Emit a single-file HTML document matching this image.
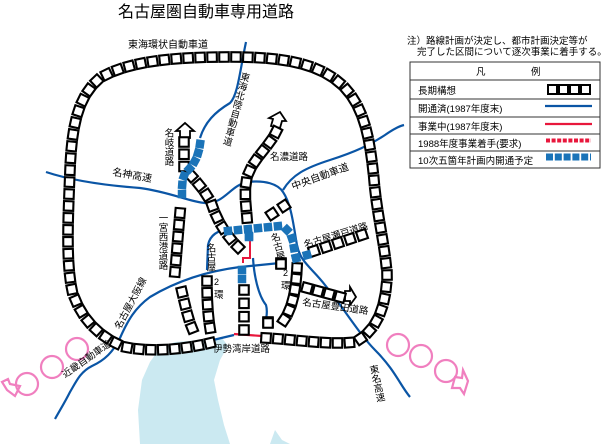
<!DOCTYPE html>
<html><head><meta charset="utf-8">
<style>
html,body{margin:0;padding:0;background:#fff;}
svg{display:block;font-family:"Liberation Sans","Noto Sans CJK JP",sans-serif;}
</style></head><body>
<svg id="s" width="614" height="444" viewBox="0 0 614 444" xmlns="http://www.w3.org/2000/svg">
<!-- bay -->
<path d="M140,444 L138,410 L142,380 L150,362 L160,348 L175,342 L200,340 L222,338 L228,346 L220,360 L214,380 L218,400 L224,425 L230,444 Z" fill="#cbe9f1"/>
<path d="M270,444 L275,430 L282,440 L290,444 Z" fill="#cbe9f1"/>
<!-- blue lines -->
<g fill="none" stroke="#0a55a5" stroke-width="2.2">
<path d="M246,42 C240,70 238,95 230,103 C215,112 205,122 200,138"/>
<path d="M46,172 C70,180 100,185 140,188 C170,192 190,202 205,203 C225,204 230,185 248,182 C265,180 278,184 283,192 C292,205 294,230 297,245 C300,262 312,268 325,285 C345,310 360,335 375,350 C395,370 400,385 410,397"/>
<path d="M283,190 C292,175 305,168 330,160 C355,152 370,145 385,135 C395,128 400,126 404,125"/>
<path d="M280,263 L240,267 C200,272 170,285 150,297 C135,308 128,320 120,338 C113,352 105,360 92,366 C80,372 76,382 70,392 C65,402 60,410 55,419"/>
<path d="M207,270 L208,245 C210,235 218,230 230,229"/>
<path d="M253,258 C254,275 258,295 266,305 C268,312 266,318 266,320"/>
<path d="M213,340 L234,335"/>
</g>
<path d="M234,334 L262,336" stroke="#e8173c" stroke-width="2.2" fill="none"/>
<path d="M250,240 L250,258 L243,258 L243,263" stroke="#e8173c" stroke-width="2" fill="none"/>
<!-- pink circles -->
<g fill="none" stroke="#f07fbf" stroke-width="2.2">
<circle cx="77" cy="349" r="11"/><circle cx="52" cy="367" r="11"/><circle cx="27" cy="384" r="11"/>
<circle cx="398" cy="345" r="11"/><circle cx="421" cy="356" r="11"/><circle cx="446" cy="371" r="11"/>
<path d="M15,396 L7,390 L2,382 L8,379 L10,384 L20,386 Z"/>
<path d="M455,377 L462,378 L463,370 L468,381 L464,394 L460,388 L452,388 Z"/>
</g>
<!-- arrows -->
<g fill="#fff" stroke="#000" stroke-width="1.8">
<path d="M180,138 L180,131 L176,131 L185,123 L194,131 L190,131 L190,138 Z"/>
<path d="M271,126 L273,119 L269,118 L280,112 L286,121 L282,121 L280,128 Z"/>
<path d="M345,291 L350,291 L350,287 L356,297 L350,305 L350,301 L345,301 Z"/>
</g>
<g id="chains"></g>
<!-- text -->
<g fill="#000" font-size="10">
<text x="118" y="17" font-size="16">名古屋圏自動車専用道路</text>
<text x="128" y="48" font-size="10">東海環状自動車道</text>
<text transform="translate(245,72) rotate(15)" font-size="9.5" style="writing-mode:vertical-rl">東海北陸自動車道</text>
<text x="168" y="128" font-size="9.5" style="writing-mode:vertical-rl">名岐道路</text>
<text x="270" y="160" font-size="9.5">名濃道路</text>
<text transform="translate(112,175) rotate(10)" font-size="10">名神高速</text>
<text transform="translate(293,190) rotate(-20)" font-size="10">中央自動車道</text>
<text x="162" y="213" font-size="9.5" style="writing-mode:vertical-rl">一宮西港道路</text>
<text x="210" y="243" font-size="9.5" style="writing-mode:vertical-rl">名古屋</text>
<text x="214" y="285" font-size="9">2</text>
<text x="214" y="298" font-size="9.5">環</text>
<text transform="translate(273,233) rotate(-15)" font-size="9.5" style="writing-mode:vertical-rl">名古屋</text>
<text x="283" y="276" font-size="9">2</text>
<text x="281" y="289" font-size="9.5">環</text>
<text transform="translate(305,248) rotate(-17)" font-size="9.5">名古屋瀬戸道路</text>
<text transform="translate(302,305) rotate(8)" font-size="9.5">名古屋豊田道路</text>
<text transform="translate(120,330) rotate(-62)" font-size="9.5">名古屋大阪線</text>
<text transform="translate(65,378) rotate(-35)" font-size="9.5">近畿自動車道</text>
<text x="213" y="352" font-size="9.5">伊勢湾岸道路</text>
<text transform="translate(372,365) rotate(-12)" font-size="9.5" style="writing-mode:vertical-rl">東名高速</text>
<text x="407" y="44" font-size="9.5">注）路線計画が決定し、都市計画決定等が</text>
<text x="417" y="55" font-size="9.5">完了した区間について逐次事業に着手する。</text>
</g>
<!-- legend -->
<g font-size="9.5">
<rect x="410" y="62" width="190" height="106" fill="#fff" stroke="#333" stroke-width="1"/>
<g stroke="#333" stroke-width="1">
<line x1="410" y1="80" x2="600" y2="80"/><line x1="410" y1="99" x2="600" y2="99"/>
<line x1="410" y1="117" x2="600" y2="117"/><line x1="410" y1="134" x2="600" y2="134"/>
<line x1="410" y1="151" x2="600" y2="151"/>
</g>
<text x="476" y="75">凡</text><text x="531" y="75">例</text>
<text x="418" y="94">長期構想</text>
<text x="418" y="112">開通済(1987年度末)</text>
<text x="418" y="130">事業中(1987年度末)</text>
<text x="418" y="147">1988年度事業着手(要求)</text>
<text x="418" y="164">10次五箇年計画内開通予定</text>
<g fill="#fff" stroke="#000" stroke-width="2">
<rect x="548" y="85" width="9" height="9"/><rect x="559" y="85" width="9" height="9"/><rect x="570" y="85" width="9" height="9"/><rect x="581" y="85" width="9" height="9"/>
</g>
<line x1="545" y1="106" x2="592" y2="106" stroke="#0a55a5" stroke-width="2.2"/>
<line x1="545" y1="124" x2="592" y2="124" stroke="#e8173c" stroke-width="2.2"/>
<line x1="546" y1="140.5" x2="591" y2="140.5" stroke="#e8173c" stroke-width="4" stroke-dasharray="4,1.6"/>
<line x1="546" y1="157" x2="591" y2="157" stroke="#1a73b8" stroke-width="7" stroke-dasharray="7,1.8"/>
</g>
</svg>
<script>
(function(){
var NS="http://www.w3.org/2000/svg",g=document.getElementById("chains"),svg=document.getElementById("s");
function chain(d,sp,sz,fill,stroke,sw){
  var p=document.createElementNS(NS,"path");p.setAttribute("d",d);p.setAttribute("fill","none");
  svg.appendChild(p);var L=p.getTotalLength();var n=Math.max(1,Math.round(L/sp));var step=L/n;
  for(var i=0;i<=n;i++){var l=Math.min(L,i*step);var a=p.getPointAtLength(l),b=p.getPointAtLength(Math.min(L,l+0.5)),c=p.getPointAtLength(Math.max(0,l-0.5));
    var ang=Math.atan2(b.y-c.y,b.x-c.x)*180/Math.PI;
    var r=document.createElementNS(NS,"rect");r.setAttribute("x",-sz/2);r.setAttribute("y",-sz/2);r.setAttribute("width",sz);r.setAttribute("height",sz);
    r.setAttribute("fill",fill);r.setAttribute("stroke",stroke);r.setAttribute("stroke-width",sw);
    r.setAttribute("transform","translate("+a.x+","+a.y+") rotate("+ang+")");g.appendChild(r);}
  svg.removeChild(p);}
var B=function(d,sp){chain(d,sp||12,9.5,"#fff","#000",2.1);};
var U=function(d,sp){chain(d,sp||11,8.5,"#1a73b8","none",0);};
B("M210,343 C180,350 150,352 125,347 C100,338 80,318 72,290 C66,260 68,220 70,170 C72,120 80,95 100,78 C130,60 180,57 230,57 C280,57 320,62 345,88 C365,110 370,140 374,180 C377,215 385,245 387,275 C386,305 378,330 355,342 C330,345 300,340 266,338",12);
B("M184,142 L184,168 C195,180 205,190 212,205 C218,222 226,235 238,247",12.5);
B("M276,132 C268,148 252,160 247,178 C244,192 246,205 247,218",12.5);
B("M272,214 L284,206",12);
B("M180,213 L175,272",12);
B("M244,290 L244,330",12);
B("M268,322 L268,323",12);
B("M281,263 L281,264",12);
B("M297,268 C296,285 294,305 284,320",12);
B("M207,281 C207,300 208,315 210,328",12);
B("M182,292 C185,305 188,318 192,328",12);
B("M314,251 L362,235",12);
B("M307,288 L340,297",12);
U("M200,144 C198,158 193,166 186,172 C182,178 182,186 182,194",9);
U("M228,231 L280,226 C289,228 293,238 294,248 L296,258",10);
U("M296,258 L307,255",10);
U("M249,236 L249,237",10);
U("M242,270 L242,279",9);
})();
</script>
</body></html>
